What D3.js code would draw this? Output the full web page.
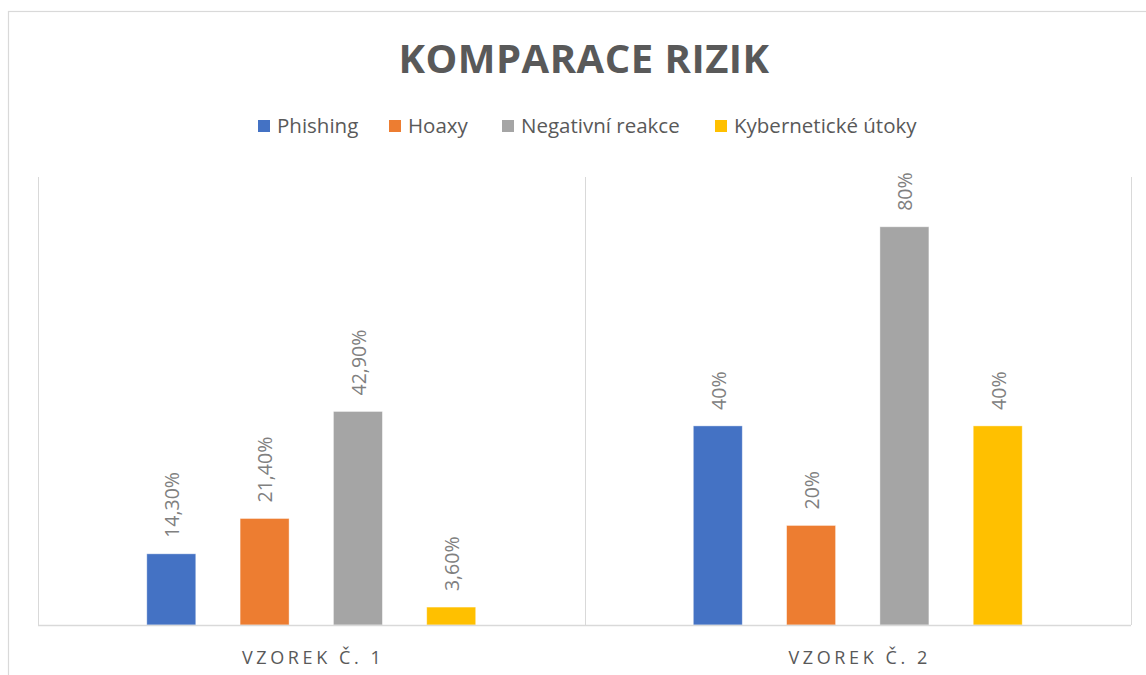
<!DOCTYPE html>
<html><head><meta charset="utf-8">
<script src="https://cdn.jsdelivr.net/npm/d3@7"></script>
<style>body{margin:0;background:#fff}svg{display:block}</style>
</head><body><svg id="c" width="1146" height="675"></svg>
<script>
const categories = ["VZOREK Č. 1", "VZOREK Č. 2"];
const seriesNames = ["Phishing", "Hoaxy", "Negativní reakce", "Kybernetické útoky"];
const phishing = [14.3, 40];
const hoaxy = [21.4, 20];
const negativniReakce = [42.9, 80];
const kyberneticke = [3.6, 40];
const valueLabels = [["14,30%", "40%"], ["21,40%", "20%"], ["42,90%", "80%"], ["3,60%", "40%"]];
const colors = ["#4472c4", "#ed7d31", "#a5a5a5", "#ffc000"];
const values = [phishing, hoaxy, negativniReakce, kyberneticke];

const svg = d3.select("#c");
const font = "'Open Sans', 'Liberation Sans', sans-serif";
const plotLeft = 38, plotRight = 1131, plotTop = 177, plotBottom = 625;

// chart border
svg.append("rect").attr("x", 8.5).attr("y", 11.5).attr("width", 1160).attr("height", 700)
  .attr("fill", "none").attr("stroke", "#d9d9d9").attr("stroke-width", 1.2);

const x0 = d3.scaleBand().domain(categories).range([plotLeft, plotRight]).paddingInner(0).paddingOuter(0);
const x1 = d3.scaleBand().domain(seriesNames).range([0, x0.bandwidth()]).paddingInner(0.475).paddingOuter(1.166);
const y = d3.scaleLinear().domain([0, 90]).range([plotBottom, plotTop]);

// vertical separators
const edges = [plotLeft].concat(categories.map(c => x0(c) + x0.bandwidth()));
svg.append("g").selectAll("line").data(edges).join("line")
  .attr("x1", d => Math.round(d) + 0.5).attr("x2", d => Math.round(d) + 0.5)
  .attr("y1", plotTop).attr("y2", plotBottom)
  .attr("stroke", "#d9d9d9").attr("stroke-width", 1);

// bars
const data = [];
seriesNames.forEach((s, si) => categories.forEach((c, ci) => data.push({s, si, c, v: values[si][ci], lab: valueLabels[si][ci]})));
svg.append("g").selectAll("rect").data(data).join("rect")
  .attr("x", d => x0(d.c) + x1(d.s)).attr("width", x1.bandwidth())
  .attr("y", d => y(d.v)).attr("height", d => y(0) - y(d.v))
  .attr("fill", d => colors[d.si]).attr("stroke", "#fff").attr("stroke-opacity", 0.5).attr("stroke-width", 0.8);

// value labels
svg.append("g").selectAll("text").data(data).join("text")
  .attr("transform", d => `translate(${x0(d.c) + x1(d.s) + x1.bandwidth() / 2 + 1},${y(d.v) - 16}) rotate(-90)`)
  .attr("dy", "0.35em").attr("text-anchor", "start")
  .attr("font-family", font).attr("font-size", 19.5).attr("fill", "#808080")
  .text(d => d.lab);

// x axis line
svg.append("line").attr("x1", plotLeft).attr("x2", plotRight).attr("y1", plotBottom + 0.5).attr("y2", plotBottom + 0.5)
  .attr("stroke", "#d9d9d9").attr("stroke-width", 1.5);

// category labels
svg.append("g").selectAll("text").data(categories).join("text")
  .attr("x", d => x0(d) + x0.bandwidth() / 2 + 2).attr("y", 664)
  .attr("text-anchor", "middle").attr("font-family", font).attr("font-size", 18)
  .attr("letter-spacing", 3.6).attr("fill", "#595959").text(d => d);

// title
svg.append("text").attr("x", 584).attr("y", 73).attr("text-anchor", "middle")
  .attr("font-family", font).attr("font-weight", "bold").attr("font-size", 40)
  .attr("letter-spacing", 0.5).attr("fill", "#595959").text("KOMPARACE RIZIK");

// legend
const legendX = [258, 389, 502, 715];
const lg = svg.append("g").selectAll("g").data(seriesNames).join("g")
  .attr("transform", (d, i) => `translate(${legendX[i]},126)`);
lg.append("rect").attr("x", 0).attr("y", -6).attr("width", 12).attr("height", 12).attr("fill", (d, i) => colors[i]);
lg.append("text").attr("x", 19).attr("y", 0).attr("dy", "0.35em")
  .attr("font-family", font).attr("font-size", 20.5).attr("fill", "#595959").text(d => d);
</script></body></html>
